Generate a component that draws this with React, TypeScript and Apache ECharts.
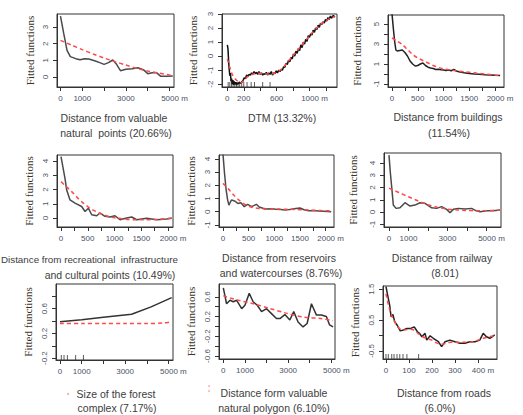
import React, { useEffect, useRef } from "react";
import * as echarts from "echarts";

// ---------- data ----------
const valuablePointsFit = [[0,3.65],[150,2.6],[300,1.6],[450,1.22],[700,1.1],[900,1.03],[1100,1.1],[1300,1.08],[1600,0.96],[1800,0.86],[2000,0.76],[2200,0.86],[2400,1.02],[2550,0.8],[2750,0.38],[3000,0.46],[3300,0.5],[3550,0.55],[3800,0.44],[4000,0.2],[4200,0.26],[4400,0.26],[4600,0.04],[4900,0.04],[5150,0.06]];
const valuablePointsSmooth = [[0,2.2],[500,1.92],[1000,1.64],[1500,1.38],[2000,1.14],[2500,0.92],[3000,0.72],[3500,0.52],[4000,0.36],[4500,0.24],[5000,0.12],[5150,0.09]];

const dtmFit = [[0,0.8],[8,0.5],[15,-0.3],[22,-0.9],[30,-1.4],[38,-1.2],[45,-1.8],[52,-1.6],[60,-2.0],[68,-1.7],[76,-2.05],[84,-1.8],[92,-2.0],[100,-1.85],[110,-2.05],[120,-1.9],[130,-2.0],[145,-1.85],[160,-1.95],[175,-1.85],[190,-1.75],[205,-1.55],[220,-1.6],[235,-1.35],[250,-1.45],[265,-1.3],[280,-1.35],[295,-1.2],[310,-1.3],[325,-1.1],[340,-1.25],[355,-1.15],[370,-1.3],[385,-1.1],[400,-1.3],[415,-1.2],[430,-1.35],[445,-1.25],[460,-1.3],[475,-1.15],[490,-1.35],[505,-1.2],[520,-1.3],[535,-1.1],[550,-1.35],[565,-1.2],[580,-1.25],[595,-1.05],[610,-1.2],[625,-1.0],[640,-1.1],[655,-0.95],[670,-1.0],[685,-0.75],[700,-0.8],[715,-0.5],[730,-0.6],[745,-0.3],[760,-0.4],[775,-0.1],[790,-0.2],[805,0.15],[820,0.0],[835,0.35],[850,0.2],[865,0.55],[880,0.4],[895,0.8],[910,0.6],[925,1.0],[940,0.85],[955,1.2],[970,1.05],[985,1.45],[1000,1.35],[1015,1.6],[1030,1.5],[1045,1.85],[1060,1.7],[1075,2.0],[1090,1.9],[1105,2.2],[1120,2.05],[1135,2.35],[1150,2.25],[1165,2.45],[1180,2.35],[1195,2.6],[1210,2.5],[1225,2.75],[1240,2.6],[1255,2.85],[1270,2.7],[1290,2.9],[1310,2.78]];
const dtmSmooth = [[0,-0.2],[30,-0.8],[60,-1.3],[100,-1.65],[140,-1.85],[170,-1.9],[200,-1.75],[240,-1.5],[280,-1.35],[330,-1.25],[380,-1.22],[430,-1.25],[480,-1.28],[530,-1.27],[580,-1.2],[630,-1.05],[680,-0.8],[730,-0.45],[780,-0.1],[830,0.25],[880,0.6],[930,0.95],[980,1.3],[1030,1.65],[1080,1.95],[1130,2.25],[1180,2.45],[1230,2.62],[1280,2.75],[1310,2.8]];
const dtmRug = [10,30,50,70,90,110,130,150,175,200,240,290,330,430,520];

const buildingsFit = [[0,6.0],[25,4.6],[50,3.3],[75,2.4],[100,2.3],[150,2.35],[200,2.4],[250,2.15],[300,1.8],[350,1.3],[400,1.0],[450,0.8],[500,0.85],[550,1.0],[600,1.1],[650,0.85],[700,0.68],[750,0.6],[800,0.55],[850,0.45],[900,0.48],[950,0.42],[1000,0.4],[1050,0.35],[1100,0.4],[1150,0.33],[1200,0.45],[1250,0.3],[1300,0.22],[1400,0.12],[1500,0.06],[1600,0.0],[1700,-0.03],[1800,-0.07],[1900,-0.1],[2000,-0.13],[2100,-0.15]];
const buildingsSmooth = [[0,3.6],[100,3.3],[200,2.95],[300,2.45],[400,1.95],[500,1.6],[600,1.35],[700,1.1],[800,0.85],[900,0.65],[1000,0.52],[1200,0.35],[1400,0.22],[1600,0.12],[1800,0.0],[2000,-0.1],[2100,-0.15]];

const recreationalFit = [[0,4.3],[75,2.77],[106,1.96],[168,1.27],[262,1.04],[386,0.81],[449,0.46],[511,0.69],[573,0.23],[667,0.16],[729,0.35],[822,0.12],[916,0.07],[1009,0.16],[1103,-0.12],[1227,0.0],[1321,0.07],[1414,-0.12],[1601,-0.02],[1788,-0.12],[1975,-0.07],[2069,-0.02]];
const recreationalSmooth = [[0,2.55],[100,2.2],[200,1.85],[300,1.45],[400,1.1],[500,0.8],[600,0.55],[700,0.38],[800,0.22],[900,0.1],[1000,0.02],[1200,-0.08],[1400,-0.12],[1600,-0.12],[1800,-0.1],[2000,-0.04],[2070,0.0]];

const reservoirsFit = [[0,4.35],[30,2.9],[60,1.7],[90,0.9],[115,0.5],[140,0.7],[165,0.88],[200,0.85],[240,0.78],[290,0.62],[350,0.68],[415,0.38],[480,0.55],[560,0.38],[650,0.56],[705,0.36],[780,0.26],[840,0.2],[950,0.22],[1030,0.18],[1120,0.16],[1220,0.12],[1330,0.18],[1420,0.25],[1500,0.28],[1580,0.15],[1670,0.08],[1770,0.1],[1860,0.06],[1960,0.04],[2110,0.0]];
const reservoirsSmooth = [[0,2.15],[100,1.75],[200,1.3],[300,0.92],[400,0.62],[500,0.42],[600,0.3],[700,0.24],[800,0.21],[1000,0.2],[1200,0.19],[1400,0.17],[1600,0.14],[1800,0.1],[2000,0.07],[2110,0.06]];

const railwayFit = [[0,4.65],[70,3.2],[137,2.07],[222,0.57],[359,0.3],[564,0.35],[820,0.76],[1077,0.49],[1333,0.57],[1590,0.76],[1846,0.71],[2000,0.55],[2188,0.35],[2444,0.3],[2700,0.44],[2957,0.22],[3128,-0.05],[3299,0.22],[3556,0.3],[3897,0.24],[4239,0.3],[4450,0.12],[4667,0.03],[5009,0.11],[5350,0.11],[5692,0.16]];
const railwaySmooth = [[0,1.95],[500,1.6],[1000,1.25],[1500,0.9],[2000,0.6],[2500,0.38],[3000,0.24],[3500,0.17],[4000,0.13],[4500,0.11],[5000,0.12],[5692,0.16]];

const forestFit = [[0,0.39],[1000,0.42],[2000,0.46],[3300,0.51],[4200,0.63],[5150,0.78]];
const forestSmooth = [[0,0.36],[1000,0.36],[2000,0.36],[3000,0.36],[4000,0.36],[4800,0.37],[5150,0.39]];
const forestRug = [60,185,340,720,1080];

const polygonFit = [[0,0.78],[150,0.46],[310,0.53],[460,0.5],[620,0.53],[850,0.36],[1000,0.43],[1200,0.67],[1380,0.5],[1570,0.43],[1770,0.3],[2000,0.36],[2230,0.26],[2460,0.16],[2620,0.16],[2850,0.24],[3080,0.13],[3260,0.3],[3460,0.09],[3690,-0.01],[3880,0.06],[4080,0.46],[4310,0.23],[4540,0.23],[4770,0.2],[4920,0.03],[5080,-0.01]];
const polygonSmooth = [[0,0.62],[700,0.53],[1400,0.46],[2100,0.37],[2900,0.27],[3700,0.19],[4500,0.16],[5080,0.12]];

const roadsFit = [[0,1.58],[7,1.31],[16,0.98],[22,0.61],[30,0.68],[38,0.45],[48,0.34],[62,0.15],[76,0.18],[91,0.23],[108,0.23],[123,0.28],[137,0.12],[146,0.07],[156,-0.04],[170,0.07],[177,-0.15],[192,-0.01],[206,-0.09],[228,-0.2],[242,-0.36],[257,-0.2],[278,-0.15],[300,-0.2],[322,-0.25],[343,-0.25],[365,-0.2],[387,-0.2],[408,-0.15],[423,0.07],[437,-0.04],[452,-0.09],[473,0.02]];
const roadsSmooth = [[0,1.35],[10,1.0],[20,0.75],[30,0.55],[45,0.35],[60,0.22],[80,0.18],[100,0.2],[120,0.18],[140,0.06],[160,-0.04],[180,-0.1],[200,-0.15],[220,-0.24],[240,-0.28],[260,-0.26],[280,-0.22],[300,-0.22],[340,-0.22],[380,-0.2],[420,-0.1],[473,0.0]];
const roadsRug = [0,10,25,35,48,60,74,91,142];

// tick values
const ticks5000 = [0,1000,2000,3000,4000,5000];
const labels5000 = [0,1000,3000,5000];
const ticks2000 = [0,250,500,750,1000,1250,1500,1750,2000];
const labels2000 = [0,500,1000,1500,2000];
const ticksDtm = [0,200,400,600,800,1000,1200];
const labelsDtm = [0,200,600,1000];
const ticksRoads = [0,100,200,300,400];

// ---------- layout ----------
type Panel = {
  box: number[]; xr: number[]; yr: number[];
  xt: number[]; xl: number[]; yt: number[]; yl: number[];
  fit: number[][]; smooth: number[][]; rug?: number[];
  nameGap: number; fitColor: string;
  titles: { text: string; x: number; y: number; align?: string; size?: number }[];
};

const panels: Panel[] = [
  { box: [57, 14, 174, 87], xr: [-160, 5206], yr: [-0.6, 3.78], xt: ticks5000, xl: labels5000, yt: [0,1,2,3], yl: [0,1,2,3],
    fit: valuablePointsFit, smooth: valuablePointsSmooth, nameGap: 22, fitColor: "#4a4a4a",
    titles: [{ text: "Distance from valuable", x: 114, y: 118 }, { text: "natural  points (20.66%)", x: 116, y: 133 }] },
  { box: [222, 14, 337, 87], xr: [-65, 1335], yr: [-2.2, 3.0], xt: ticksDtm, xl: labelsDtm, yt: [-2,-1,0,1,2,3], yl: [-2,-1,0,1,2,3],
    fit: dtmFit, smooth: dtmSmooth, rug: dtmRug, nameGap: 24, fitColor: "#111",
    titles: [{ text: "DTM (13.32%)", x: 282, y: 118 }] },
  { box: [388, 15, 504, 87], xr: [-78, 2175], yr: [-1.3, 5.9], xt: ticks2000, xl: labels2000, yt: [-1,0,1,2,3,4,5], yl: [-1,1,3,5],
    fit: buildingsFit, smooth: buildingsSmooth, nameGap: 26, fitColor: "#222",
    titles: [{ text: "Distance from buildings", x: 448, y: 117 }, { text: "(11.54%)", x: 449, y: 133 }] },
  { box: [57, 155, 173, 227], xr: [-75, 2093], yr: [-0.63, 4.42], xt: ticks2000, xl: labels2000, yt: [0,1,2,3,4], yl: [0,1,2,3,4],
    fit: recreationalFit, smooth: recreationalSmooth, nameGap: 23, fitColor: "#4a4a4a",
    titles: [{ text: "Distance from recreational  infrastructure", x: 1, y: 259, align: "left", size: 9.8 }, { text: "and cultural points (10.49%)", x: 110, y: 275 }] },
  { box: [219, 155, 334, 227], xr: [-78, 2164], yr: [-1.16, 4.3], xt: ticks2000, xl: labels2000, yt: [-1,0,1,2,3,4], yl: [-1,0,1,2,3,4],
    fit: reservoirsFit, smooth: reservoirsSmooth, nameGap: 23, fitColor: "#4a4a4a",
    titles: [{ text: "Distance from reservoirs", x: 279, y: 258 }, { text: "and watercourses (8.76%)", x: 281, y: 273 }] },
  { box: [384, 153, 501, 227], xr: [-256, 5744], yr: [-1.22, 4.82], xt: ticks5000, xl: labels5000, yt: [-1,0,1,2,3,4], yl: [-1,0,1,2,3,4],
    fit: railwayFit, smooth: railwaySmooth, nameGap: 26, fitColor: "#4a4a4a",
    titles: [{ text: "Distance from railway", x: 442, y: 258 }, { text: "(8.01)", x: 445, y: 273 }] },
  { box: [56, 284, 173, 360], xr: [-185, 5210], yr: [-0.23, 1.0], xt: ticks5000, xl: labels5000, yt: [-0.2,0,0.2,0.4,0.6,0.8], yl: [-0.2,0.2,0.6],
    fit: forestFit, smooth: forestSmooth, rug: forestRug, nameGap: 23, fitColor: "#333",
    titles: [{ text: "Size of the forest", x: 116, y: 394 }, { text: "complex (7.17%)", x: 117, y: 408 }] },
  { box: [219, 284, 335, 359], xr: [-200, 5170], yr: [-0.66, 0.86], xt: ticks5000, xl: labels5000, yt: [-0.6,-0.4,-0.2,0,0.2,0.4,0.6], yl: [-0.6,-0.2,0.2,0.6],
    fit: polygonFit, smooth: polygonSmooth, nameGap: 23, fitColor: "#333",
    titles: [{ text: "Distance form valuable", x: 274, y: 393 }, { text: "natural polygon (6.10%)", x: 274, y: 408 }] },
  { box: [383, 286, 497, 359], xr: [-13, 483], yr: [-0.76, 1.6], xt: ticksRoads, xl: ticksRoads, yt: [-0.5,0,0.5,1,1.5], yl: [-0.5,0.5,1.5],
    fit: roadsFit, smooth: roadsSmooth, rug: roadsRug, nameGap: 23, fitColor: "#222",
    titles: [{ text: "Distance from roads", x: 444, y: 393 }, { text: "(6.0%)", x: 440, y: 408 }] },
];

const lastLabel = (arr: number[]) => arr[arr.length - 1];

function buildOption() {
  const grid: any[] = [], xAxis: any[] = [], yAxis: any[] = [], series: any[] = [], graphic: any[] = [];
  panels.forEach((p, i) => {
    const [l, t, r, b] = p.box;
    grid.push({ left: l, top: t, width: r - l, height: b - t, show: true, borderColor: "#333", borderWidth: 1, backgroundColor: "transparent" });
    const last = lastLabel(p.xl);
    xAxis.push({
      type: "value", gridIndex: i, min: p.xr[0], max: p.xr[1],
      splitLine: { show: false },
      axisLine: { show: true, onZero: false, lineStyle: { color: "#333", width: 1 } },
      axisTick: { show: true, customValues: p.xt, length: 4, lineStyle: { color: "#333" } },
      axisLabel: {
        customValues: p.xl, margin: 7, fontSize: 8, color: "#4a5266", fontFamily: "Liberation Sans",
        formatter: (v: number) => (v === last ? "{p| }" + v + " m" : String(v)),
        rich: { p: { width: 10, fontSize: 8 } },
      },
    });
    yAxis.push({
      type: "value", gridIndex: i, min: p.yr[0], max: p.yr[1],
      splitLine: { show: false },
      axisLine: { show: true, onZero: false, lineStyle: { color: "#333", width: 1 } },
      axisTick: { show: true, customValues: p.yt, length: 4, lineStyle: { color: "#333" } },
      axisLabel: { customValues: p.yl, rotate: 90, margin: 8, fontSize: 8, color: "#4a5266", fontFamily: "Liberation Sans",
        formatter: (v: number) => String(v) },
      name: "Fitted functions", nameLocation: "middle", nameGap: p.nameGap,
      nameTextStyle: { fontFamily: "Liberation Serif", fontSize: 11, color: "#3a3428" },
    });
    series.push({
      type: "line", xAxisIndex: i, yAxisIndex: i, data: p.fit, showSymbol: false, symbol: "none",
      lineStyle: { color: p.fitColor, width: 1.5 }, z: 3,
    });
    series.push({
      type: "line", xAxisIndex: i, yAxisIndex: i, data: p.smooth, showSymbol: false, symbol: "none", smooth: 0.3,
      lineStyle: { color: "#ff4a4a", width: 1.5, type: [4, 3] }, z: 4,
    });
    if (p.rug) {
      const yb = p.yr[0] + ((p.yr[1] - p.yr[0]) * 2.5) / (b - t);
      series.push({
        type: "scatter", xAxisIndex: i, yAxisIndex: i, symbol: "rect", symbolSize: [1, 5],
        data: p.rug.map((x) => [x, yb]), itemStyle: { color: "#333" }, silent: true,
      });
    }
    p.titles.forEach((tt) => {
      graphic.push({
        type: "text", x: tt.x, y: tt.y,
        style: { text: tt.text, fontFamily: "Liberation Sans", fontSize: tt.size || 10.5, fill: "#3d3d3d",
          textAlign: tt.align || "center", textVerticalAlign: "middle" },
      });
    });
  });
  graphic.push({ type: "circle", shape: { cx: 68, cy: 394, r: 1 }, style: { fill: "#f4a0a0" } });
  graphic.push({ type: "circle", shape: { cx: 209, cy: 386, r: 0.8 }, style: { fill: "#f4a0a0" } });
  graphic.push({ type: "circle", shape: { cx: 209, cy: 391, r: 0.8 }, style: { fill: "#f4a0a0" } });
  return { animation: false, backgroundColor: "#fff", grid, xAxis, yAxis, series, graphic };
}

export default function App() {
  const ref = useRef<HTMLDivElement>(null);
  useEffect(() => {
    if (!ref.current) return;
    const chart = echarts.init(ref.current, null, { renderer: "svg" });
    chart.setOption(buildOption() as any);
    return () => chart.dispose();
  }, []);
  return <div ref={ref} style={{ position: "absolute", left: 0, top: 0, width: 523, height: 415 }} />;
}
